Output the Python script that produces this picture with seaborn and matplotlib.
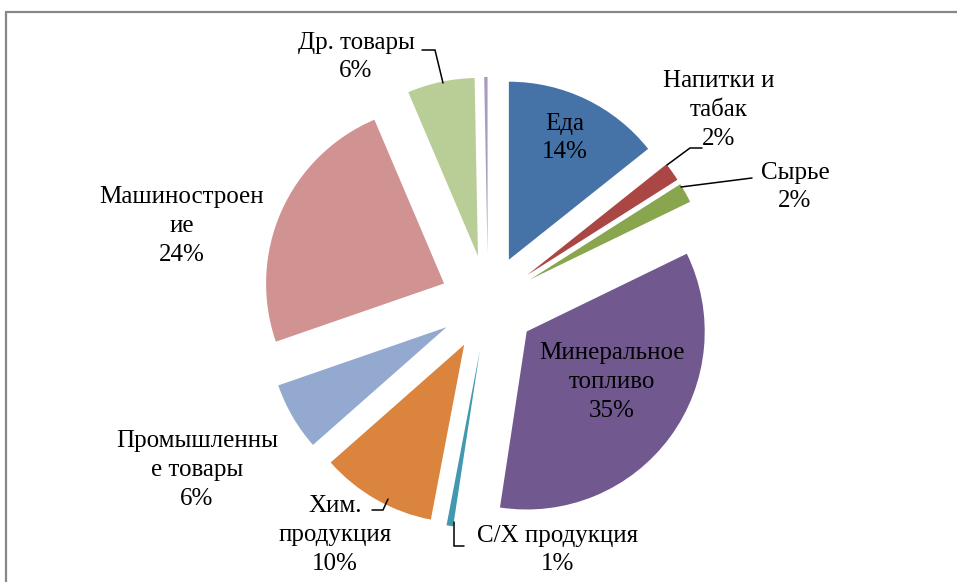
import numpy as np
import matplotlib
matplotlib.use("Agg")
import matplotlib.pyplot as plt
from matplotlib.lines import Line2D
import seaborn as sns

# ------------------------------
# Data (shares, %)
# ------------------------------
categories = ["Еда", "Напитки и\nтабак", "Сырье", "Минеральное\nтопливо",
              "С/Х продукция", "Хим.\nпродукция", "Промышленны\nе товары",
              "Машиностроен\nие", "Др. товары", ""]
shares = [14.3, 1.7, 1.8, 34.6, 0.6, 10.5, 6.2, 23.9, 6.1, 0.3]
pct_labels = ["14%", "2%", "2%", "35%", "1%", "10%", "6%", "24%", "6%", ""]

colors = ["#4572A7", "#AA4643", "#89A54E", "#71588F", "#4198AF",
          "#DB843D", "#93A9CF", "#D19392", "#B9CD96", "#A99BBD"]

# ------------------------------
# Layout (pixels of a 957x582 canvas)
# ------------------------------
W, H = 957, 582
cx, cy, R = 488, 303, 178

def to_data(px, py):
    return (px - cx) / R, (cy - py) / R

label_px = [(565, 138), (719, 110), (795, 187), (612, 382), (558, 550),
            (335, 535), (197, 470), (182, 226), (356, 57), None]

leaders_px = [
    [(667, 165), (690, 148), (702, 148)],
    [(681, 187), (752, 178)],
    [(422, 50), (435, 50), (443, 83)],
    [(372, 510), (383, 510), (388, 499)],
    [(454, 522), (454, 546), (464, 546)],
]

# ------------------------------
# Plot
# ------------------------------
sns.set_style("white")
plt.rcParams['font.family'] = ['Liberation Serif', 'DejaVu Serif']

fig = plt.figure(figsize=(W / 100, H / 100), dpi=100)
ax = fig.add_axes([0, 0, 1, 1])

ax.pie(shares, colors=sns.color_palette(colors), startangle=90, counterclock=False,
       explode=[0.27] * len(shares), radius=1.0,
       wedgeprops=dict(linewidth=0))

for name, pct, pos in zip(categories, pct_labels, label_px):
    if pos is None:
        continue
    x, y = to_data(*pos)
    ax.text(x, y, f"{name}\n{pct}", ha="center", va="center",
            fontsize=18, linespacing=1.4, color="black")

for pts in leaders_px:
    xs, ys = zip(*[to_data(*p) for p in pts])
    ax.plot(xs, ys, color="black", lw=1.1, solid_joinstyle="miter")

ax.set_xlim(-cx / R, (W - cx) / R)
ax.set_ylim(-(H - cy) / R, cy / R)
ax.set_aspect("equal", adjustable="box")
ax.axis("off")

# chart frame (top and left edges visible)
fig.add_artist(Line2D([6 / W, 1], [1 - 12 / H, 1 - 12 / H], color="#878787", lw=1.6))
fig.add_artist(Line2D([6 / W, 6 / W], [0, 1 - 12 / H], color="#878787", lw=1.6))

plt.savefig("out.png", dpi=100)
